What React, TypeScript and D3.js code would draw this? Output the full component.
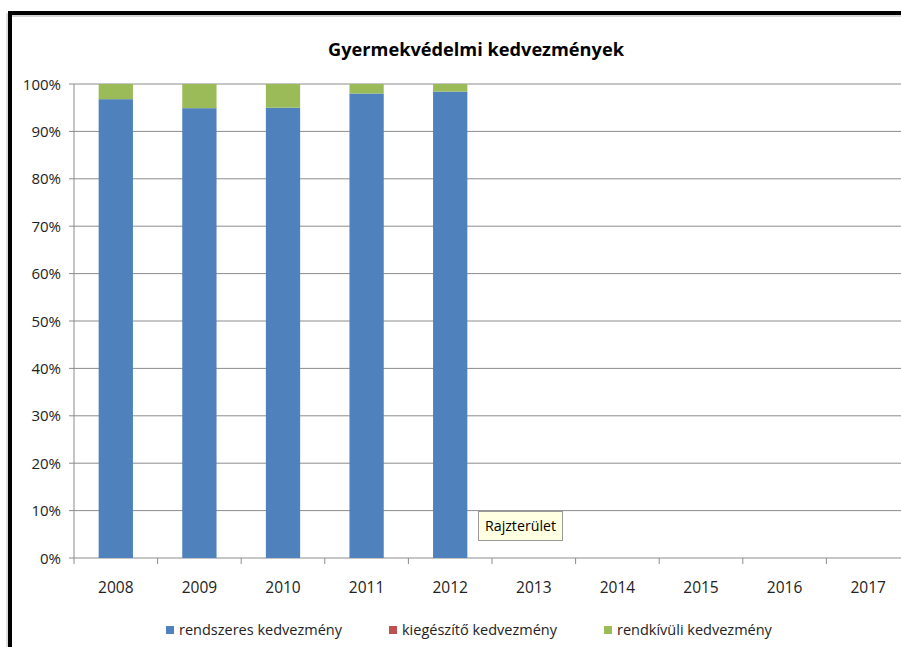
import React, { useEffect } from "react";
import * as d3 from "d3";

const years = ["2008","2009","2010","2011","2012","2013","2014","2015","2016","2017"];
const rendszeres = [96.8, 94.9, 95.0, 98.0, 98.4, 0, 0, 0, 0, 0];
const kiegeszito = [0, 0, 0, 0, 0, 0, 0, 0, 0, 0];
const rendkivuli = [3.2, 5.1, 5.0, 2.0, 1.6, 0, 0, 0, 0, 0];
const seriesNames = ["rendszeres kedvezmény", "kiegészítő kedvezmény", "rendkívüli kedvezmény"];
const seriesColors = ["#4F81BD", "#C0504D", "#9BBB59"];
const yTicks = [0, 10, 20, 30, 40, 50, 60, 70, 80, 90, 100];
const title = "Gyermekvédelmi kedvezmények";

const W = 901, H = 647;
const FONT = "'Open Sans', 'Noto Sans', sans-serif";

export default function App() {
  useEffect(() => {
    document.body.style.margin = "0";
    document.documentElement.style.overflow = "hidden";
  }, []);
  const x = d3.scaleBand().domain(years).range([74, 910]).paddingInner(0.59).paddingOuter(0.295);
  const y = d3.scaleLinear().domain([0, 100]).range([558, 84]);
  const data = years.map((yr, i) => ({ year: yr, a: rendszeres[i], b: kiegeszito[i], c: rendkivuli[i] }));
  const stack = d3.stack<any>().keys(["a", "b", "c"])(data);
  const band = 836 / years.length;
  const legendX = [166, 389, 604];

  return (
    <div style={{ position: "absolute", left: 0, top: 0, width: W, height: H, overflow: "hidden" }}>
      <svg width={W} height={H} style={{ display: "block", background: "#fff" }}>
        <line x1={7} y1={13} x2={7} y2={H} stroke="#bbb" strokeWidth={1} />
        <line x1={12} y1={16} x2={W} y2={16} stroke="#aaa" strokeWidth={1} />
        <path d={`M10,${H}V13H${W}`} fill="none" stroke="#000" strokeWidth={4} />
        <text x={476} y={56} textAnchor="middle" fontFamily={FONT} fontWeight="bold" fontSize={18.2} fill="#000">{title}</text>
        {yTicks.map(t => (
          <g key={t}>
            <line x1={69} x2={W} y1={y(t)} y2={y(t)} stroke="#8c8c8c" strokeWidth={1} />
            <text x={61} y={y(t) + 5.5} textAnchor="end" fontFamily={FONT} fontSize={15} fill="#222">{t}%</text>
          </g>
        ))}
        <line x1={74} x2={74} y1={84} y2={558} stroke="#8c8c8c" strokeWidth={1} />
        {years.map((yr, i) => (
          <line key={yr} x1={74 + i * band} x2={74 + i * band} y1={558} y2={564} stroke="#8c8c8c" />
        ))}
        {stack.map((s, si) => (
          <g key={si} fill={seriesColors[si]}>
            {s.map((d: any, i: number) => (
              d[1] - d[0] > 0 ? (
                <rect key={i} x={x(years[i])} width={x.bandwidth()} y={y(d[1])} height={y(d[0]) - y(d[1])} />
              ) : null
            ))}
          </g>
        ))}
        {years.map(yr => (
          <text key={yr} x={(x(yr) as number) + x.bandwidth() / 2} y={593} textAnchor="middle" fontFamily={FONT} fontSize={15.5} fill="#222">{yr}</text>
        ))}
        {seriesNames.map((n, i) => (
          <g key={n}>
            <rect x={legendX[i]} y={626} width={8} height={8} fill={seriesColors[i]} />
            <text x={legendX[i] + 13} y={635} fontFamily={FONT} fontSize={14.5} fill="#222">{n}</text>
          </g>
        ))}
        <rect x={478.5} y={511.5} width={84} height={29} fill="#FFFFE1" stroke="#999" />
        <text x={485} y={531} fontFamily={FONT} fontSize={14.2} fill="#000">Rajzterület</text>
      </svg>
    </div>
  );
}
